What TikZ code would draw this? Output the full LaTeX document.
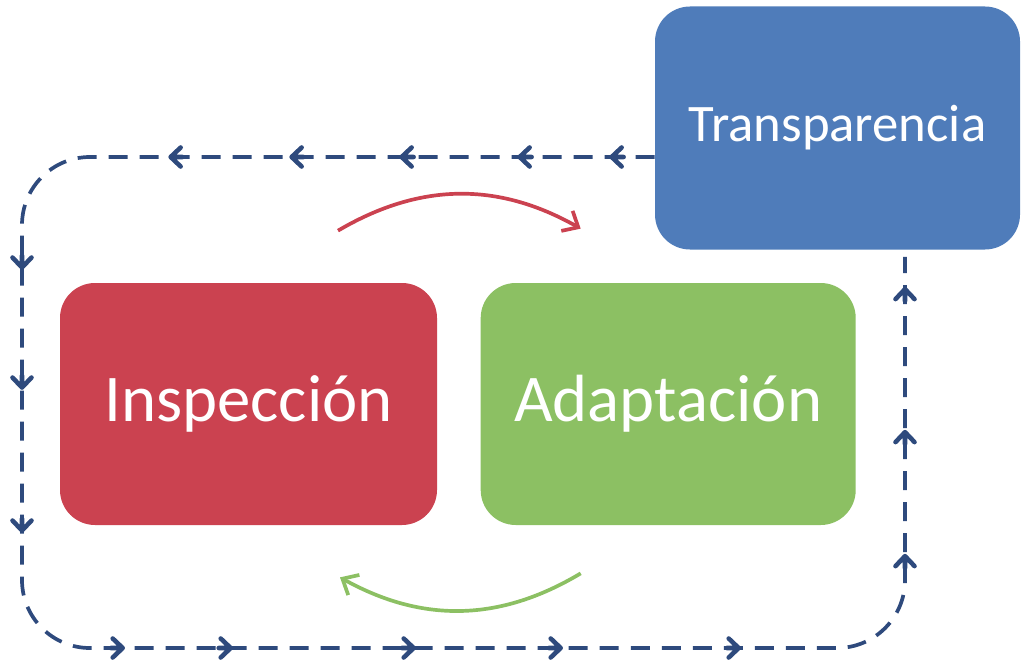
\documentclass[tikz,border=0pt]{standalone}
\usepackage{fontspec}
\setmainfont{Carlito}
\usetikzlibrary{positioning,calc,arrows.meta,decorations.markings}
\definecolor{rojo}{HTML}{CB4250}
\definecolor{verde}{HTML}{8CC063}
\definecolor{azul}{HTML}{4F7CBA}
\definecolor{marino}{HTML}{2E4A7D}
\newcommand{\puntaflecha}{\draw[solid,sharp corners,marino,line width=2.6pt,line cap=round,line join=round] (-0.2cm,0.19cm) -- (0,0) -- (-0.2cm,-0.19cm) (-0.24cm,0) -- (0,0);}

\begin{document}
\begin{tikzpicture}
  [box/.style={
    rectangle,
    rounded corners=0.7cm,
    minimum width=7.54cm,
    minimum height=4.84cm,
    text=white,
    align=center,
    font=\fontsize{38}{40}\selectfont
    },
   giro/.style={
    draw=#1,
    line width=2.1pt,
    -{Straight Barb[length=0.26cm,width=0.46cm]}
    },
   ciclo/.style={
    draw=marino,
    line width=2.1pt,
    dash pattern=on 0.38cm off 0.24cm,
    rounded corners=1.36cm,
    postaction={decorate},
    decoration={markings,
      % arriba
      mark=at position 0.86cm with {\puntaflecha},
      mark=at position 2.7cm with {\puntaflecha},
      mark=at position 5.06cm with {\puntaflecha},
      mark=at position 7.26cm with {\puntaflecha},
      mark=at position 9.68cm with {\puntaflecha},
      % izquierda
      mark=at position 14.28cm with {\puntaflecha},
      mark=at position 16.68cm with {\puntaflecha},
      mark=at position 19.54cm with {\puntaflecha},
      % abajo
      mark=at position 23.32cm with {\puntaflecha},
      mark=at position 25.48cm with {\puntaflecha},
      mark=at position 29.14cm with {\puntaflecha},
      mark=at position 32.08cm with {\puntaflecha},
      mark=at position 35.64cm with {\puntaflecha},
      % derecha
      mark=at position 40.22cm with {\puntaflecha},
      mark=at position 42.7cm with {\puntaflecha},
      mark=at position 45.56cm with {\puntaflecha}
      }
    }
  ]
  \useasboundingbox (0,0) rectangle (20.44,13.18);

  \node [box, fill=rojo] (insp) at (4.97,5.1) {Inspección};
  \node [box, fill=verde, minimum width=7.5cm, right=0.86cm of insp] (adap) {Adaptación};
  \node [
    box,
    fill=azul,
    minimum width=7.3cm,
    minimum height=4.86cm,
    font=\fontsize{30}{32}\selectfont
    ]
    (trans) at (16.75,10.62) {Transparencia};

  \coordinate (esquina) at (0.44,0.22);

  % ciclo exterior
  \draw[ciclo] ([yshift=-0.58cm]trans.west) -| (esquina) -| ([xshift=1.35cm,yshift=-0.14cm]trans.south);

  \draw[giro=rojo] ([shift={(1.79,1.04)}]insp.north) to[bend left=30] ([shift={(-1.75,1.08)}]adap.north);
  \draw[giro=verde] ([shift={(-1.75,-0.96)}]adap.south) to[bend left=30] ([shift={(1.83,-1.04)}]insp.south);
\end{tikzpicture}
\end{document}
